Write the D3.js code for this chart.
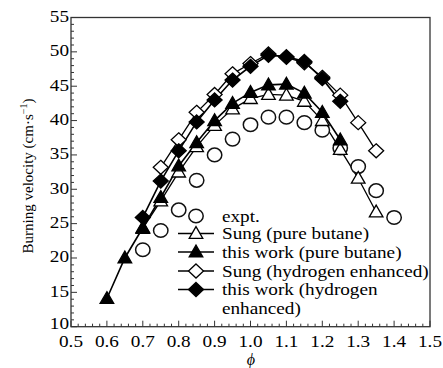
<!DOCTYPE html>
<html><head><meta charset="utf-8">
<script src="https://cdn.jsdelivr.net/npm/d3@7"></script>
<style>body{margin:0;background:#fff}svg{display:block}text{font-family:"Liberation Serif","DejaVu Serif",serif;fill:#000}</style>
</head><body><svg id="c" width="443" height="368"></svg>
<script>
const xTicks = [0.5,0.6,0.7,0.8,0.9,1.0,1.1,1.2,1.3,1.4,1.5];
const yTicks = [10,15,20,25,30,35,40,45,50,55];

const exptPhi = [0.7,0.75,0.8,0.85,0.9,0.95,1.0,1.05,1.1,1.15,1.2,1.25,1.3,1.35,1.4];
const exptV   = [21.2,24.0,27.0,31.3,35.0,37.3,39.4,40.5,40.5,39.7,38.6,36.0,33.3,29.8,25.9];

const sungPurePhi = [0.7,0.75,0.8,0.85,0.9,0.95,1.0,1.05,1.1,1.15,1.2,1.25,1.3,1.35];
const sungPureV   = [24.3,28.3,32.5,36.2,39.3,41.7,43.2,43.8,43.7,42.8,40.0,35.8,31.6,26.7];

const workPurePhi = [0.6,0.65,0.7,0.75,0.8,0.85,0.9,0.95,1.0,1.05,1.1,1.15,1.2,1.25];
const workPureV   = [14.1,20.0,24.4,28.8,33.4,36.8,40.0,42.5,44.1,45.2,45.3,44.0,41.2,37.2];

const sungH2Phi = [0.75,0.8,0.85,0.9,0.95,1.0,1.05,1.1,1.15,1.2,1.25,1.3,1.35];
const sungH2V   = [33.2,37.2,41.2,43.8,46.8,48.3,49.7,49.2,48.4,46.3,43.7,39.7,35.6];

const workH2Phi = [0.7,0.75,0.8,0.85,0.9,0.95,1.0,1.05,1.1,1.15,1.2,1.25];
const workH2V   = [25.9,31.2,35.6,39.8,43.0,45.9,47.9,49.5,49.3,48.6,46.1,42.8];

const legendLabels = [["expt."],["Sung (pure butane)"],["this work (pure butane)"],["Sung (hydrogen enhanced)"],["this work (hydrogen","enhanced)"]];

const svg = d3.select("#c");
const L=71, R=430, T=17.5, B=326.7;
const x = d3.scaleLinear().domain([0.5,1.5]).range([L,R]);
const y = d3.scaleLinear().domain([10,55]).range([B,T]);
const SX = 1.2, FS = 16;

function stext(sel, tx, ty, str, anchor){
  return sel.append("text").attr("transform",`translate(${tx},${ty}) scale(${SX},1)`)
    .attr("text-anchor",anchor||"start").attr("font-size",FS).text(str);
}

const g = svg.append("g");
d3.range(0.5,1.5001,0.02).forEach(v=>{
  const major = Math.abs(v*10-Math.round(v*10))<1e-6;
  g.append("line").attr("x1",x(v)).attr("x2",x(v)).attr("y1",B).attr("y2",B-(major?6:3)).attr("stroke","#333").attr("stroke-width",1);
});
d3.range(10,55.001,1).forEach(v=>{
  const major = v%5===0;
  g.append("line").attr("y1",y(v)).attr("y2",y(v)).attr("x1",L).attr("x2",L+(major?6:3)).attr("stroke","#333").attr("stroke-width",1);
});
svg.append("rect").attr("x",L).attr("y",T).attr("width",R-L).attr("height",B-T).attr("fill","none").attr("stroke","#333").attr("stroke-width",1.3);

const xt = svg.append("g");
xTicks.forEach(d=>stext(xt, x(d), 347, d.toFixed(1), "middle"));
const yt = svg.append("g");
yTicks.forEach(d=>stext(yt, 69, y(d)+(d===10?2.5:4.5), d, "end"));

svg.append("text").attr("x",251).attr("y",365).attr("text-anchor","middle").attr("font-size",16).attr("font-style","italic").text("ϕ");
const yl = svg.append("text").attr("transform","translate(33,176) rotate(-90)").attr("text-anchor","middle").attr("font-size",15);
yl.append("tspan").text("Burning velocity (cm·s");
yl.append("tspan").attr("font-size",10).attr("dy",-6).text("−1");
yl.append("tspan").attr("dy",6).text(")");

const line = d3.line().x(d=>x(d[0])).y(d=>y(d[1]));
const zip=(a,b)=>a.map((v,i)=>[v,b[i]]);

function marker(sel,type,cx,cy){
  if(type==="circle") sel.append("ellipse").attr("cx",cx).attr("cy",cy).attr("rx",7.2).attr("ry",6.8).attr("fill","#fff").attr("stroke","#111").attr("stroke-width",1.5);
  else if(type==="tri"||type==="trif"){
    const s=d3.symbol(d3.symbolTriangle,80)();
    sel.append("path").attr("d",s).attr("transform",`translate(${cx},${cy+1})`).attr("fill",type==="trif"?"#000":"#fff").attr("stroke","#000").attr("stroke-width",1.3);
  } else {
    const s="M0,-7L7.5,0L0,7L-7.5,0Z";
    sel.append("path").attr("d",s).attr("transform",`translate(${cx},${cy})`).attr("fill",type==="diaf"?"#000":"#fff").attr("stroke","#000").attr("stroke-width",1.3);
  }
}
const series = [
  {phi:sungH2Phi,v:sungH2V,t:"dia",lw:1.3},
  {phi:workH2Phi,v:workH2V,t:"diaf",lw:1.6},
  {phi:sungPurePhi,v:sungPureV,t:"tri",lw:1.3},
  {phi:workPurePhi,v:workPureV,t:"trif",lw:1.6},
];
series.forEach(s=>{
  svg.append("path").attr("d",line(zip(s.phi,s.v))).attr("fill","none").attr("stroke","#000").attr("stroke-width",s.lw);
});
const mg = svg.append("g");
zip(exptPhi,exptV).forEach(d=>marker(mg,"circle",x(d[0]),y(d[1])));
series.forEach(s=>zip(s.phi,s.v).forEach(d=>marker(mg,s.t,x(d[0]),y(d[1]))));

const lg = svg.append("g");
const rows=[216,233.5,252,271,289.5];
const types=["circle","tri","trif","dia","diaf"];
rows.forEach((ry,i)=>{
  if(i>0) lg.append("line").attr("x1",178).attr("x2",214).attr("y1",ry).attr("y2",ry).attr("stroke","#000").attr("stroke-width",i%2===0?1.6:1.3);
  marker(lg,types[i],196,ry);
  legendLabels[i].forEach((t,j)=>stext(lg, 222, ry+5.5+j*19, t));
});
</script></body></html>
